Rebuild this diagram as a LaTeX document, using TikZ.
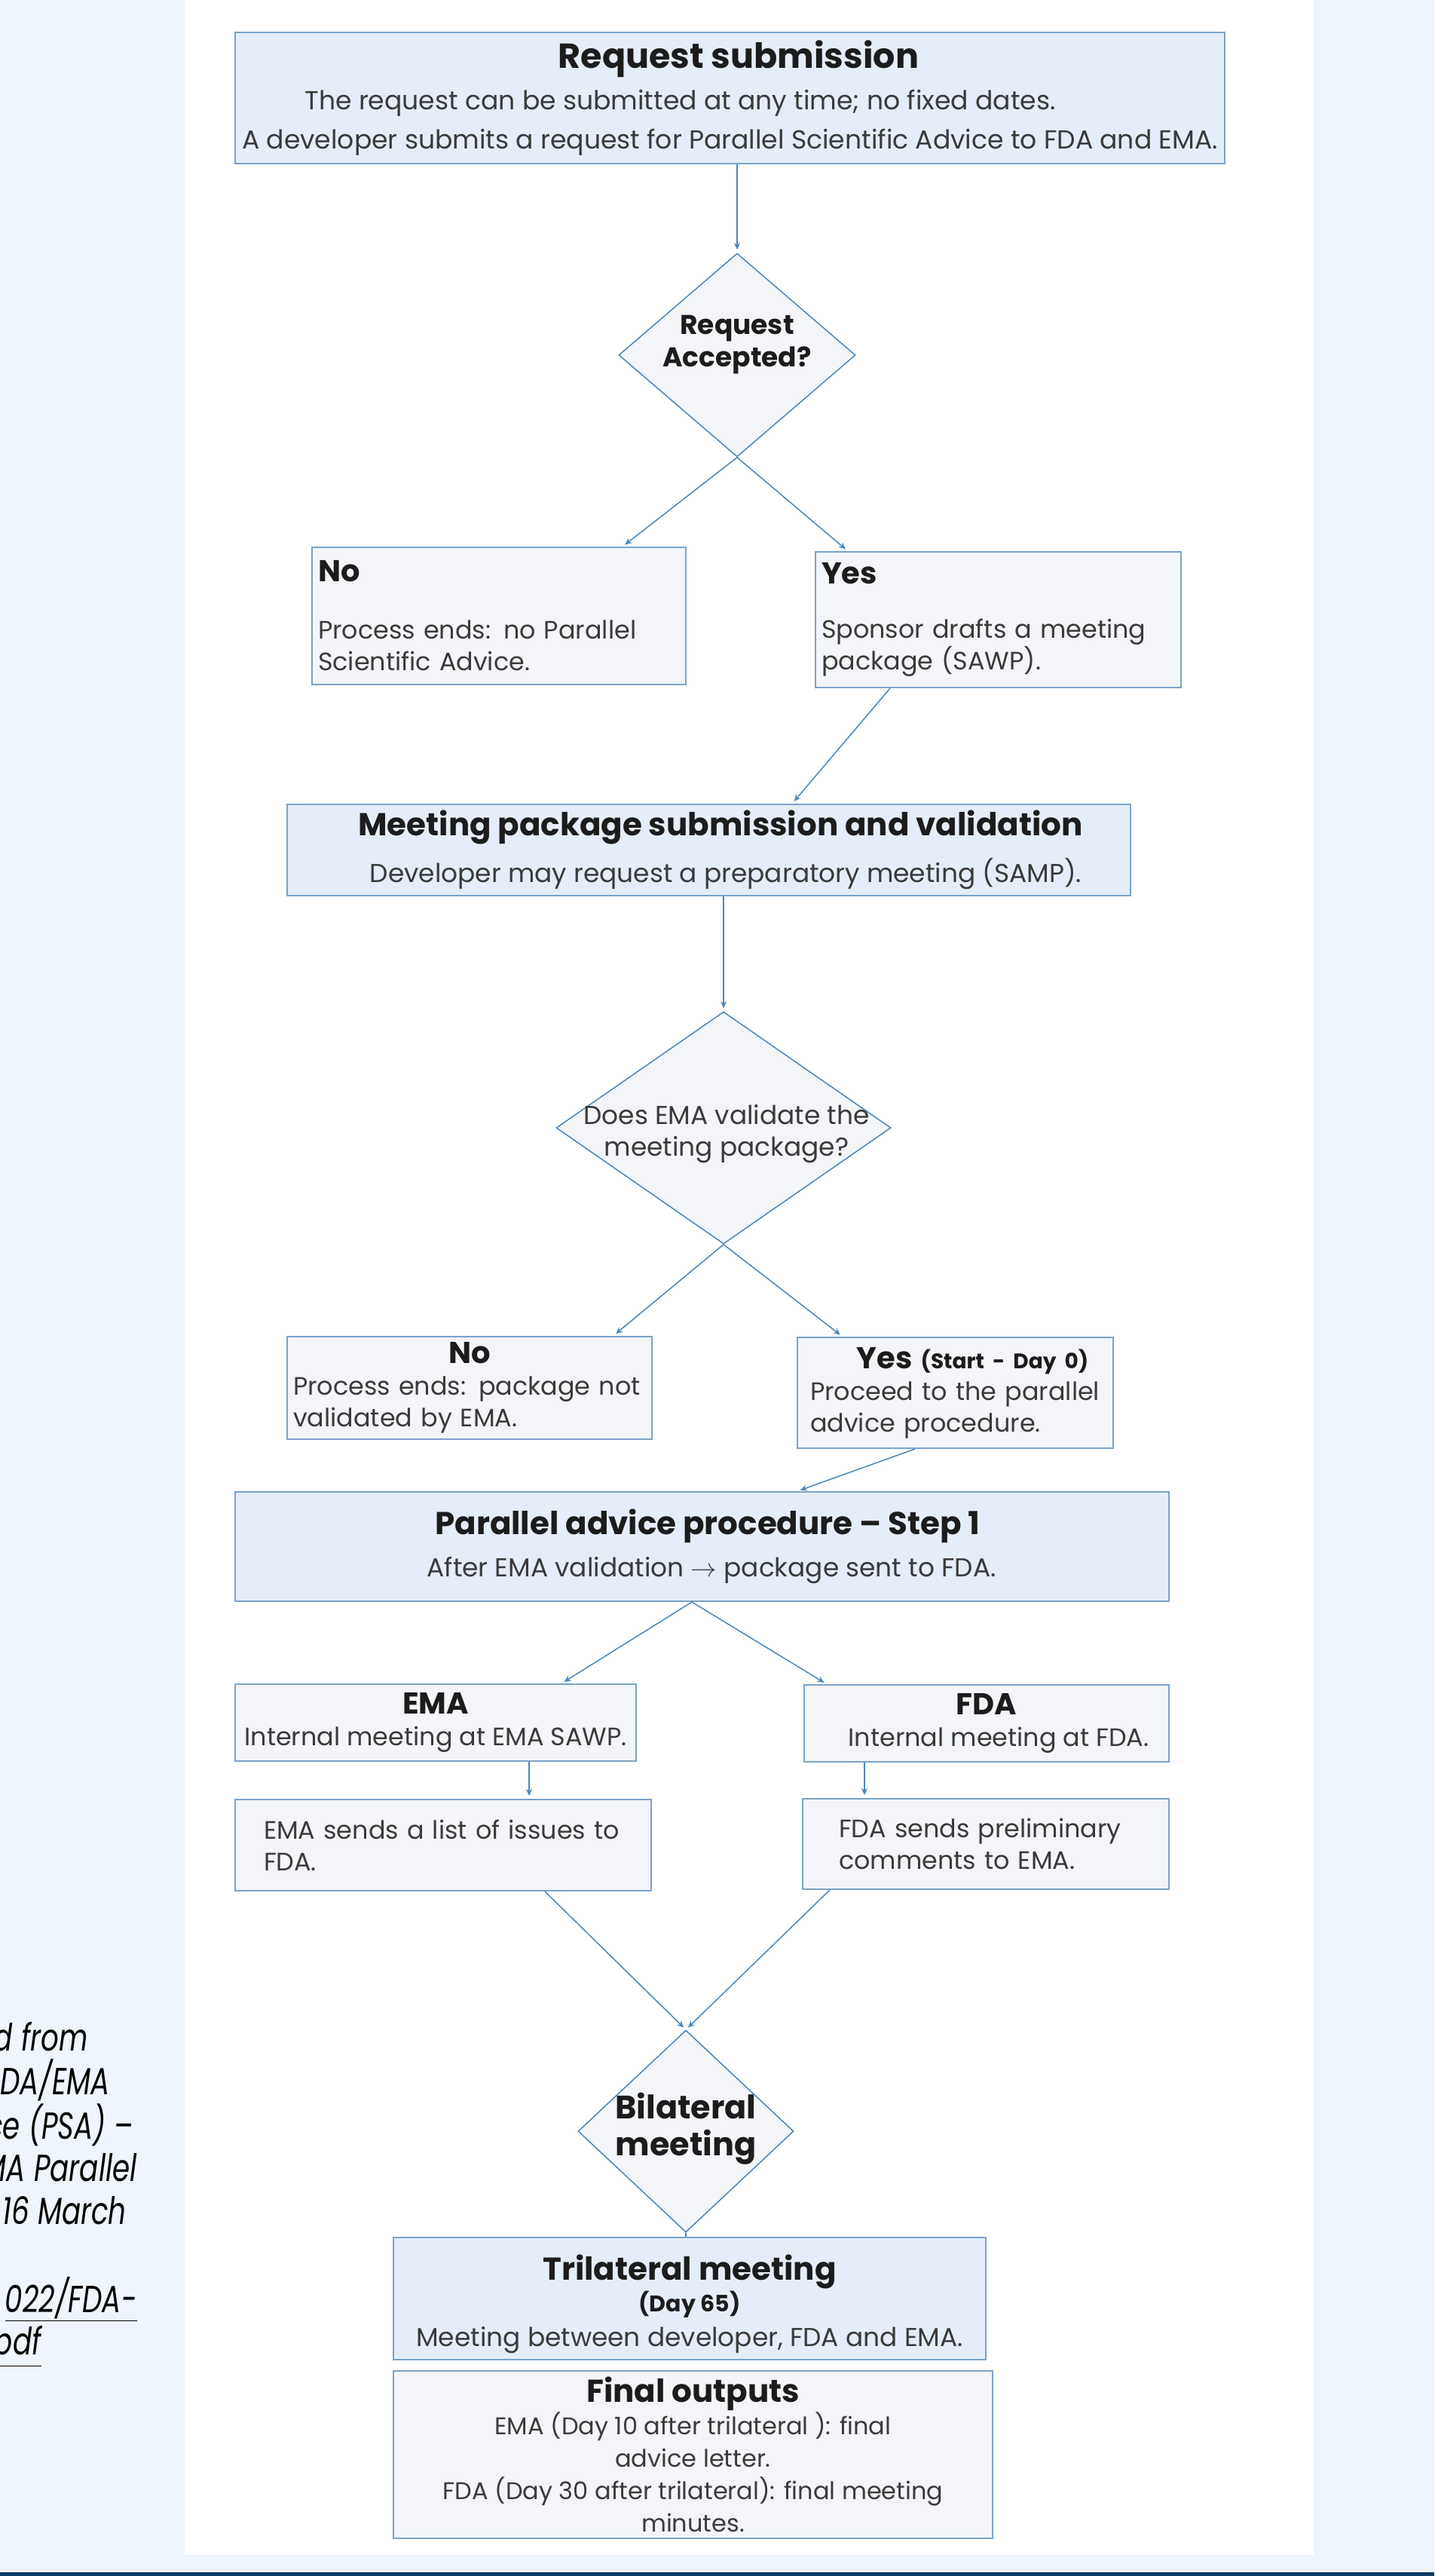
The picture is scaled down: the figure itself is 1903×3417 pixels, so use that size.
\documentclass[tikz,border=0pt]{standalone}
\usepackage{fontspec}
\setmainfont{Poppins}
\newfontfamily\notefont{Poppins}[FakeStretch=0.745]
\usetikzlibrary{arrows.meta,calc,backgrounds,shapes.geometric}

\definecolor{pagebg}{HTML}{EFF5FC}
\definecolor{barnavy}{HTML}{0A3A66}
\definecolor{stagefill}{HTML}{E5EDF8}
\definecolor{notefill}{HTML}{F3F5F8}
\definecolor{edgeblue}{HTML}{7BA3C8}
\definecolor{flowblue}{HTML}{4A87BB}
\definecolor{inkdark}{HTML}{1C1C1C}
\definecolor{inkbody}{HTML}{3A3A3A}

% headings inside the boxes
\newcommand{\hd}[1]{{\fontsize{21}{25}\selectfont\bfseries\color{inkdark}#1}}
\newcommand{\ttl}[1]{{\fontsize{20}{23}\selectfont\bfseries\color{inkdark}#1}}

\begin{document}
\begin{tikzpicture}[x=0.5pt, y=-0.5pt]
    % `stage' is used for the blue step boxes.
    % `infobox' is used for the grey outcome boxes.
    % `decision' is used for the diamonds, `dlabel' for their texts.
    \tikzstyle{stage} = [draw=edgeblue,fill=stagefill,line width=1pt,inner sep=4pt,text=inkbody,font=\fontsize{17.2}{21}\selectfont]
    \tikzstyle{infobox} = [draw=edgeblue,fill=notefill,line width=1pt,inner sep=4pt,text=inkbody,font=\fontsize{16.7}{21}\selectfont]
    \tikzstyle{decision} = [draw=flowblue,fill=notefill,shape=diamond,line width=0.75pt,inner sep=0pt]
    \tikzstyle{dlabel} = [align=center,inner sep=0pt,text=inkdark]
    \tikzstyle{conn} = [draw=flowblue,line width=0.75pt,-{Stealth[length=4.5pt,width=4pt]},shorten >=2pt]
    \tikzstyle{srcnote} = [anchor=base east,inner sep=0pt,text=black,font=\notefont\itshape\fontsize{25}{29}\selectfont]
    %
    \useasboundingbox (0,0) rectangle (1903,3417);

    % Request and first decision.
    \node[stage,minimum width=656.5pt,minimum height=87pt,align=center,font=\fontsize{17.3}{26}\selectfont] (req) at (968.5,130)
      {{\fontsize{23}{26}\selectfont\bfseries\color{inkdark}\hspace*{11.5pt}Request submission}\\[1.5pt]
       The request can be submitted at any time; no fixed dates.\hspace*{66pt}\mbox{}\\
       A developer submits a request for Parallel Scientific Advice to FDA and EMA.};
    \node[decision,minimum width=157pt,minimum height=135pt] (accept) at (978,471) {};
    \node[dlabel,font=\fontsize{18}{21.5}\selectfont\bfseries] (accepttxt) at (978,457) {Request\\Accepted?};

    \node[infobox,minimum width=248pt,minimum height=91pt,text width=240pt,align=left] (no1) at (662,817)
      {\ttl{No}\\[17pt]\mbox{Process ends: no Parallel}\\\mbox{Scientific Advice.}};
    \node[infobox,minimum width=242.5pt,minimum height=90pt,text width=234.5pt,align=left] (yes1) at (1324.5,822)
      {\ttl{Yes}\\[15pt]\mbox{Sponsor drafts a meeting}\\\mbox{package (SAWP).}};

    % Meeting package and validation.
    \node[stage,minimum width=559.5pt,minimum height=60.5pt,align=center] (meet) at (940.5,1127.5)
      {\hd{\hspace*{15.5pt}Meeting package submission and validation}\\[8pt]
       \hspace*{22.5pt}Developer may request a preparatory meeting (SAMP).};
    \node[decision,minimum width=222pt,minimum height=154pt] (valid) at (960,1496) {};
    \node[dlabel,text=inkbody,font=\fontsize{17.2}{21}\selectfont] (validtxt) at (964,1504) {Does EMA validate the\\meeting package?};

    \node[infobox,minimum width=242pt,minimum height=68pt,text width=234pt,align=left] (no2) at (623,1841)
      {\makebox[234pt]{\ttl{No}}\\\mbox{Process ends: package not}\\\mbox{validated by EMA.}};
    \node[infobox,minimum width=209.5pt,minimum height=73.5pt,inner xsep=8.5pt,text width=192.5pt,align=left] (yes2) at (1267.5,1847.5)
      {\makebox[192.5pt]{\hspace*{23pt}\ttl{Yes} {\bfseries\color{inkdark}\fontsize{14}{17}\selectfont(Start - Day 0)}}\\
       \mbox{Proceed to the parallel}\\\mbox{advice procedure.}};

    % Parallel procedure.
    \node[stage,minimum width=619.5pt,minimum height=72.5pt,align=center] (step1) at (931.5,2051.5)
      {\hd{\hspace*{7.5pt}Parallel advice procedure – Step 1}\\[7pt]
       \hspace*{12.5pt}After EMA validation $\rightarrow$ package sent to FDA.};
    \node[infobox,minimum width=266pt,minimum height=51pt,align=center] (ema) at (578,2285)
      {\ttl{EMA}\\Internal meeting at EMA SAWP.};
    \node[infobox,minimum width=242pt,minimum height=51pt,align=center] (fda) at (1309,2286)
      {\ttl{FDA}\\\hspace*{16pt}Internal meeting at FDA.};
    \node[infobox,minimum width=276pt,minimum height=60.5pt,inner xsep=19pt,text width=238pt,align=left] (emaout) at (588,2447.5)
      {\mbox{EMA sends a list of issues to}\\FDA.};
    \node[infobox,minimum width=243pt,minimum height=60pt,inner xsep=24pt,text width=195pt,align=left] (fdaout) at (1308,2446)
      {\mbox{FDA sends preliminary}\\\mbox{comments to EMA.}};

    % Meetings and outputs.
    \node[decision,minimum width=143pt,minimum height=134pt] (bil) at (910,2827) {};
    \node[dlabel,font=\fontsize{21.5}{24.5}\selectfont\bfseries] (biltxt) at (910,2824) {Bilateral\\meeting};
    \node[stage,minimum width=393pt,minimum height=74pt,align=center] (tri) at (915,3049)
      {\rule{0pt}{24pt}\hd{Trilateral meeting}\\{\bfseries\color{inkdark}\fontsize{15}{18}\selectfont(Day 65)}\\[2pt]
       Meeting between developer, FDA and EMA.};
    \node[infobox,minimum width=397.5pt,minimum height=109pt,align=center,font=\fontsize{16}{21.5}\selectfont] (final) at (919.5,3256)
      {\hd{Final outputs}\\EMA (Day 10 after trilateral ): final\\advice letter.\\
       FDA (Day 30 after trilateral): final meeting\\minutes.};

    % Source note, cut by the left page edge.
    \node[srcnote] (src1) at (117,2720) {d from};
    \node[srcnote] (src2) at (146,2778) {DA/EMA};
    \node[srcnote] (src3) at (177,2837) {ce (PSA) –};
    \node[srcnote] (src4) at (182,2893) {MA Parallel};
    \node[srcnote] (src5) at (168,2950) {16 March};
    \node[srcnote] (src6) at (182,3067) {\underline{022/FDA-}};
    \node[srcnote] (src7) at (55,3123) {\underline{pdf}};

    % Connectors.
    \draw[conn] (accept.north |- req.south) -- (accept.north);
    \draw[conn] (accept.south) -- ($(no1.north)+(164,0)$);
    \draw[conn] (accept.south) -- ($(yes1.north)+(-199.5,0)$);
    \draw[conn] ($(yes1.south)+(-143.5,0)$) -- ($(meet.north)+(110.5,0)$);
    \draw[conn] (valid.north |- meet.south) -- (valid.north);
    \draw[conn] (valid.south) -- ($(no2.north)+(191,0)$);
    \draw[conn] (valid.south) -- ($(yes2.north)+(-149.5,0)$);
    \draw[conn] ($(yes2.south)+(-53.5,0)$) -- ($(step1.north)+(126.5,0)$);
    \draw[conn] ($(step1.south)+(-13.5,0)$) -- ($(ema.north)+(167,0)$);
    \draw[conn] ($(step1.south)+(-13.5,0)$) -- ($(fda.north)+(-212,0)$);
    \draw[conn] ($(ema.south)+(124,0)$) -- ($(emaout.north)+(114,0)$);
    \draw[conn] ($(fda.south)+(-162,0)$) -- ($(fdaout.north)+(-161,0)$);
    \draw[conn] ($(emaout.south)+(135,0)$) -- (bil.north);
    \draw[conn] ($(fdaout.south)+(-207,0)$) -- (bil.north);
    \draw[draw=flowblue,line width=0.75pt] (bil.south) -- (bil.south |- tri.north);

    \begin{pgfonlayer}{background}
        % Page, white panel and bottom bar.
        \fill[pagebg] (0,0) rectangle (1903,3417);
        \fill[white] (245,0) rectangle (1743,3389);
        \fill[barnavy] (0,3412) rectangle (1903,3417);
    \end{pgfonlayer}
\end{tikzpicture}
\end{document}
